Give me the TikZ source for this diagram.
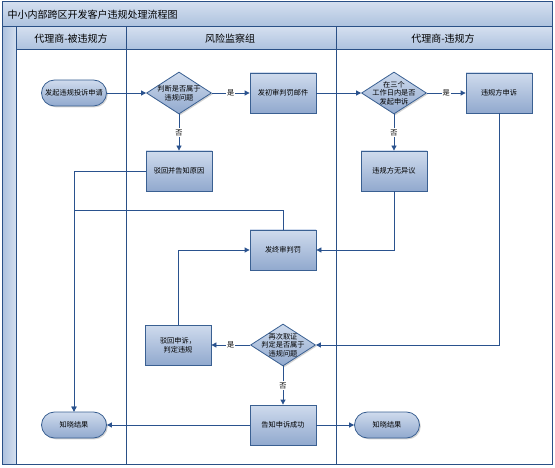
\documentclass[tikz,border=0pt]{standalone}
\usepackage{fontspec}
\setmainfont{Noto Sans CJK SC}
\usetikzlibrary{shapes.geometric,shadows,arrows.meta}
\definecolor{laneline}{RGB}{42,80,134}
\definecolor{barTop}{RGB}{212,223,239}
\definecolor{barBot}{RGB}{172,193,222}
\definecolor{boxTop}{RGB}{207,219,237}
\definecolor{boxBot}{RGB}{145,169,206}
\definecolor{boxline}{RGB}{58,96,146}
\definecolor{flow}{RGB}{42,82,142}

\begin{document}
\begin{tikzpicture}[x=1pt,y=-1pt,
    every node/.style={font=\fontsize{7.2}{8.7}\selectfont},
    shadowed/.style={drop shadow={shadow xshift=1.3pt,shadow yshift=-1.3pt,opacity=0.35}},
    procbox/.style={rectangle,draw=boxline,line width=0.8pt,top color=boxTop,bottom color=boxBot,
      minimum width=66pt,minimum height=40pt,align=center,shadowed},
    termbox/.style={rectangle,rounded corners=13pt,draw=boxline,line width=0.8pt,top color=boxTop,bottom color=boxBot,
      minimum width=65pt,minimum height=26pt,align=center,shadowed},
    decide/.style={diamond,draw=boxline,line width=0.8pt,top color=boxTop,bottom color=boxBot,
      minimum width=65pt,minimum height=42pt,inner sep=0pt,shadowed},
    decidetext/.style={align=center,inner sep=0pt},
    link/.style={draw=flow,line width=0.8pt,-{Triangle[length=5pt,width=5pt]}},
    yesno/.style={fill=white,inner sep=1pt},
    lanehead/.style={font=\fontsize{10}{12}\selectfont}]
  \useasboundingbox (0,0) rectangle (555,468);

  \shade[top color=barTop,bottom color=barBot] (2,2) rectangle (552,27);
  \shade[top color=barTop,bottom color=barBot] (16,27) rectangle (552,50);
  \shade[left color=barBot,right color=barTop] (2,27) rectangle (16,464);
  \draw[laneline,line width=1pt] (2,2) rectangle (552,464);
  \draw[laneline,line width=1pt] (2,27) -- (552,27);
  \draw[laneline,line width=1pt] (16,50) -- (552,50);
  \draw[laneline,line width=1pt] (16,27) -- (16,464);
  \draw[laneline,line width=1pt] (126,27) -- (126,464);
  \draw[laneline,line width=1pt] (336,27) -- (336,464);

  \node[lanehead,anchor=west] (title) at (4,14.5) {中小内部跨区开发客户违规处理流程图};
  \node[lanehead] (lane1) at (71,39) {代理商-被违规方};
  \node[lanehead] (lane2) at (230,39) {风险监察组};
  \node[lanehead] (lane3) at (443,39) {代理商-违规方};

  \node[termbox] (start) at (74,93) {发起违规投诉申请};
  \node[decide,label={[decidetext]center:{判断是否属于\\违规问题}}] (check) at (179,93) {};
  \node[procbox] (mail) at (283,93) {发初审判罚邮件};
  \node[decide,label={[decidetext]center:{在三个\\工作日内是否\\发起申诉}}] (within) at (394,93) {};
  \node[procbox] (appeal) at (499,93) {违规方申诉};
  \node[procbox] (reject) at (179,171) {驳回并告知原因};
  \node[procbox] (noobj) at (394,171) {违规方无异议};
  \node[procbox] (final) at (283,250) {发终审判罚};
  \node[procbox] (overrule) at (178,345) {驳回申诉，\\判定违规};
  \node[decide,label={[decidetext]center:{再次取证\\判定是否属于\\违规问题}}] (recheck) at (283,345) {};
  \node[procbox] (success) at (283,425) {告知申诉成功};
  \node[termbox] (know1) at (74,425) {知晓结果};
  \node[termbox] (know2) at (387,425) {知晓结果};

  \draw[link] (start) -- (check);
  \draw[link] (check) -- node[yesno] {是} (mail);
  \draw[link] (mail) -- (within);
  \draw[link] (within) -- node[yesno] {是} (appeal);
  \draw[link] (check) -- node[yesno] {否} (reject);
  \draw[link] (within) -- node[yesno] {否} (noobj);
  \draw[link] (reject.west) -| (know1.north);
  \draw[link] (final.north) -- ++(0,-19) -| (know1.north);
  \draw[link] (noobj.south) |- (final.east);
  \draw[link] (overrule.north) |- (final.west);
  \draw[link] (appeal.south) |- (recheck.east);
  \draw[link] (recheck) -- node[yesno] {是} (overrule);
  \draw[link] (recheck) -- node[yesno] {否} (success);
  \draw[link] (success) -- (know1);
  \draw[link] (success) -- (know2);
\end{tikzpicture}
\end{document}
